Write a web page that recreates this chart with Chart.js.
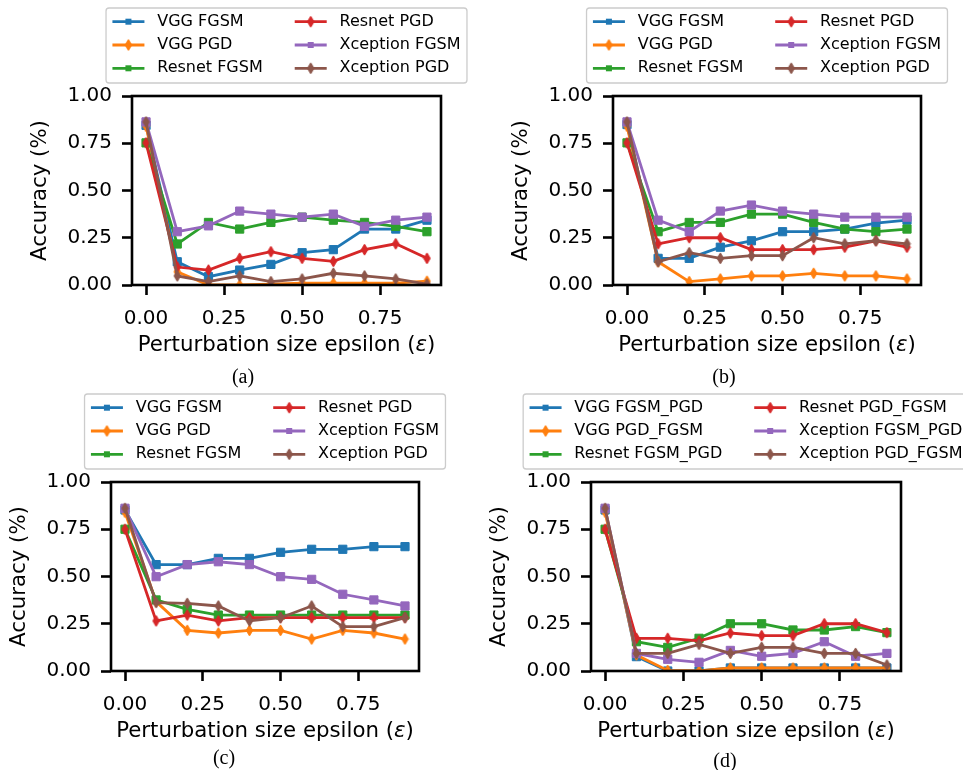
<!DOCTYPE html>
<html>
<head>
<meta charset="utf-8">
<script src="https://cdn.jsdelivr.net/npm/chart.js@4/dist/chart.umd.min.js"></script>
<style>
  body { margin: 0; background: #fff; width: 963px; height: 770px; position: relative; overflow: hidden; }
  .panel { position: absolute; }
  .cap { position: absolute; font-family: "Liberation Serif", serif; font-size: 20px; transform: translate(-50%, -50%); }
</style>
</head>
<body>
<div class="panel" style="left:0;top:0"><canvas id="ca" width="480" height="385"></canvas></div>
<div class="panel" style="left:480px;top:0"><canvas id="cb" width="483" height="385"></canvas></div>
<div class="panel" style="left:0;top:385px"><canvas id="cc" width="480" height="385"></canvas></div>
<div class="panel" style="left:480px;top:385px"><canvas id="cd" width="483" height="385"></canvas></div>
<div class="cap" style="left:243px;top:376px">(a)</div>
<div class="cap" style="left:724px;top:376px">(b)</div>
<div class="cap" style="left:224px;top:757px">(c)</div>
<div class="cap" style="left:725px;top:760px">(d)</div>
<script>
const epsilon = [0, 0.1, 0.2, 0.3, 0.4, 0.5, 0.6, 0.7, 0.8, 0.9];
const xTickValues = [0, 0.25, 0.5, 0.75];
const yTickValues = [0, 0.25, 0.5, 0.75, 1];

const seriesLabels = ["VGG FGSM", "VGG PGD", "Resnet FGSM", "Resnet PGD", "Xception FGSM", "Xception PGD"];
const mixedLabels = ["VGG FGSM_PGD", "VGG PGD_FGSM", "Resnet FGSM_PGD", "Resnet PGD_FGSM", "Xception FGSM_PGD", "Xception PGD_FGSM"];

// (a)
const vggFgsmA = [0.845, 0.123, 0.044, 0.079, 0.109, 0.171, 0.187, 0.296, 0.296, 0.343];
const vggPgdA = [0.84, 0.07, 0.0, 0.0, 0.005, 0.01, 0.01, 0.01, 0.01, 0.02];
const resnetFgsmA = [0.752, 0.217, 0.331, 0.296, 0.331, 0.359, 0.343, 0.331, 0.31, 0.282];
const resnetPgdA = [0.752, 0.095, 0.079, 0.141, 0.176, 0.141, 0.125, 0.187, 0.218, 0.141];
const xceptionFgsmA = [0.863, 0.282, 0.313, 0.391, 0.375, 0.359, 0.375, 0.31, 0.343, 0.359];
const xceptionPgdA = [0.863, 0.048, 0.018, 0.048, 0.018, 0.032, 0.062, 0.048, 0.032, 0.005];

// (b)
const vggFgsmB = [0.849, 0.141, 0.141, 0.2, 0.234, 0.282, 0.282, 0.296, 0.327, 0.343];
const vggPgdB = [0.84, 0.123, 0.018, 0.032, 0.048, 0.048, 0.062, 0.048, 0.048, 0.032];
const resnetFgsmB = [0.752, 0.282, 0.331, 0.331, 0.375, 0.375, 0.331, 0.296, 0.282, 0.296];
const resnetPgdB = [0.752, 0.218, 0.25, 0.25, 0.187, 0.187, 0.187, 0.2, 0.234, 0.2];
const xceptionFgsmB = [0.863, 0.343, 0.282, 0.391, 0.423, 0.391, 0.375, 0.359, 0.359, 0.359];
const xceptionPgdB = [0.863, 0.123, 0.171, 0.141, 0.155, 0.155, 0.25, 0.218, 0.234, 0.218];

// (c)
const vggFgsmC = [0.852, 0.563, 0.563, 0.596, 0.596, 0.628, 0.644, 0.644, 0.658, 0.658];
const vggPgdC = [0.84, 0.367, 0.215, 0.201, 0.215, 0.215, 0.169, 0.215, 0.201, 0.169];
const resnetFgsmC = [0.75, 0.376, 0.326, 0.296, 0.296, 0.296, 0.296, 0.296, 0.296, 0.296];
const resnetPgdC = [0.75, 0.265, 0.296, 0.265, 0.282, 0.282, 0.282, 0.282, 0.282, 0.282];
const xceptionFgsmC = [0.861, 0.499, 0.563, 0.578, 0.563, 0.499, 0.485, 0.406, 0.376, 0.344];
const xceptionPgdC = [0.861, 0.362, 0.358, 0.344, 0.265, 0.282, 0.344, 0.235, 0.235, 0.282];

// (d)
const vggFgsmD = [0.852, 0.076, 0.0, 0.0, 0.016, 0.016, 0.016, 0.016, 0.016, 0.016];
const vggPgdD = [0.84, 0.085, 0.003, 0.0, 0.016, 0.016, 0.016, 0.016, 0.016, 0.016];
const resnetFgsmD = [0.75, 0.155, 0.125, 0.173, 0.25, 0.25, 0.217, 0.217, 0.235, 0.203];
const resnetPgdD = [0.75, 0.173, 0.173, 0.159, 0.201, 0.187, 0.187, 0.25, 0.25, 0.203];
const xceptionFgsmD = [0.861, 0.093, 0.062, 0.046, 0.109, 0.078, 0.093, 0.155, 0.078, 0.093];
const xceptionPgdD = [0.861, 0.093, 0.093, 0.141, 0.093, 0.125, 0.125, 0.093, 0.093, 0.032];

const colors = ["#1f77b4", "#ff7f0e", "#2ca02c", "#d62728", "#9467bd", "#8c564b"];
const FONT = '"DejaVu Sans", sans-serif';

// matplotlib-style thin diamond, used as an image point style
function thinDiamond(color) {
  const c = document.createElement("canvas");
  c.width = 9;
  c.height = 13;
  const g = c.getContext("2d");
  g.beginPath();
  g.moveTo(4.5, 1.0);
  g.lineTo(7.8, 6.5);
  g.lineTo(4.5, 12.0);
  g.lineTo(1.2, 6.5);
  g.closePath();
  g.fillStyle = color;
  g.fill();
  g.strokeStyle = color;
  g.lineWidth = 1;
  g.stroke();
  return c;
}
const diamonds = colors.map(thinDiamond);

function drawMarker(ctx, i, x, y) {
  if (i % 2) {
    const d = diamonds[i];
    ctx.drawImage(d, x - d.width / 2, y - d.height / 2);
  } else {
    ctx.fillStyle = colors[i];
    ctx.fillRect(x - 3, y - 3, 6, 6);
  }
}

const framePlugin = {
  id: "frame",
  afterDatasetsDraw(chart) {
    const { ctx, chartArea: a } = chart;
    ctx.save();
    ctx.strokeStyle = "#000";
    ctx.lineWidth = 2.6;
    ctx.strokeRect(a.left, a.top, a.right - a.left, a.bottom - a.top);
    ctx.restore();
  }
};

// x title with an italic epsilon
const xTitlePlugin = {
  id: "xTitle",
  afterDraw(chart) {
    const { ctx, chartArea: a } = chart;
    const parts = [["Perturbation size epsilon (", ""], ["\u03b5", "italic "], [")", ""]];
    ctx.save();
    ctx.fillStyle = "#000";
    ctx.textBaseline = "middle";
    let total = 0;
    parts.forEach(p => { ctx.font = p[1] + "21.3px " + FONT; total += ctx.measureText(p[0]).width; });
    let x = (a.left + a.right) / 2 - total / 2;
    const y = a.bottom + 60;
    parts.forEach(p => {
      ctx.font = p[1] + "21.3px " + FONT;
      ctx.fillText(p[0], x, y);
      x += ctx.measureText(p[0]).width;
    });
    ctx.restore();
  }
};

// two-column legend box above the axes
const legendPlugin = {
  id: "boxLegend",
  afterDraw(chart) {
    const { ctx, chartArea: a } = chart;
    const items = chart.data.datasets;
    const fs = 16;
    ctx.save();
    ctx.font = fs + "px " + FONT;
    const pad = 0.4 * fs, handle = 2 * fs, hpad = 0.8 * fs, colGap = 2 * fs, pitch = 23.3;
    const colW = [items.slice(0, 3), items.slice(3)].map(col =>
      handle + hpad + Math.max(...col.map(d => ctx.measureText(d.label).width)));
    const boxW = 2 * pad + colW[0] + colGap + colW[1];
    const boxH = 75;
    const x0 = (a.left + a.right) / 2 - boxW / 2;
    const y0 = a.top - 13 - boxH;
    ctx.beginPath();
    ctx.roundRect(x0, y0, boxW, boxH, 3);
    ctx.fillStyle = "rgba(255,255,255,0.8)";
    ctx.fill();
    ctx.strokeStyle = "#cccccc";
    ctx.lineWidth = 1.3;
    ctx.stroke();
    items.forEach((d, i) => {
      const col = Math.floor(i / 3), row = i % 3;
      const cx = x0 + pad + (col ? colW[0] + colGap : 0);
      const cy = y0 + 13.7 + row * pitch;
      ctx.strokeStyle = colors[i];
      ctx.lineWidth = 2.8;
      ctx.beginPath();
      ctx.moveTo(cx, cy);
      ctx.lineTo(cx + handle, cy);
      ctx.stroke();
      drawMarker(ctx, i, cx + handle / 2, cy);
      ctx.fillStyle = "#000";
      ctx.textBaseline = "middle";
      ctx.fillText(d.label, cx + handle + hpad, cy);
    });
    ctx.restore();
  }
};

const panels = [
  { id: "ca", w: 480, h: 385, left: 132, right: 441, top: 96, bottom: 285, labels: seriesLabels,
    series: [vggFgsmA, vggPgdA, resnetFgsmA, resnetPgdA, xceptionFgsmA, xceptionPgdA] },
  { id: "cb", w: 483, h: 385, left: 133, right: 441, top: 96, bottom: 285, labels: seriesLabels,
    series: [vggFgsmB, vggPgdB, resnetFgsmB, resnetPgdB, xceptionFgsmB, xceptionPgdB] },
  { id: "cc", w: 480, h: 385, left: 111, right: 419, top: 97, bottom: 286, labels: seriesLabels,
    series: [vggFgsmC, vggPgdC, resnetFgsmC, resnetPgdC, xceptionFgsmC, xceptionPgdC] },
  { id: "cd", w: 483, h: 385, left: 111, right: 421, top: 97, bottom: 286, labels: mixedLabels,
    series: [vggFgsmD, vggPgdD, resnetFgsmD, resnetPgdD, xceptionFgsmD, xceptionPgdD] }
];

const axisLine = { display: true, drawOnChartArea: false, drawTicks: true, tickLength: 10, tickWidth: 2.6, tickColor: "#000" };

panels.forEach(p => {
  new Chart(document.getElementById(p.id), {
    type: "line",
    data: {
      datasets: p.series.map((vals, i) => ({
        label: p.labels[i],
        data: vals.map((v, k) => ({ x: epsilon[k], y: v })),
        borderColor: colors[i],
        backgroundColor: colors[i],
        borderWidth: 2.8,
        pointStyle: i % 2 ? diamonds[i] : "rect",
        pointRadius: 5.8,
        pointBorderWidth: 1,
        order: 5 - i,
        clip: 0
      }))
    },
    options: {
      responsive: false,
      animation: false,
      events: [],
      layout: { padding: { left: 0, top: p.top, right: p.w - p.right, bottom: 0 } },
      plugins: { legend: { display: false }, tooltip: { enabled: false } },
      scales: {
        x: {
          type: "linear",
          min: -0.045,
          max: 0.945,
          afterBuildTicks: s => { s.ticks = xTickValues.map(v => ({ value: v })); },
          afterFit: s => { s.height = p.h - p.bottom; },
          grid: axisLine,
          border: { display: false },
          ticks: { color: "#000", padding: 12, maxRotation: 0, font: { family: FONT, size: 20 },
                   callback: v => v.toFixed(2) }
        },
        y: {
          min: 0,
          max: 1,
          afterBuildTicks: s => { s.ticks = yTickValues.map(v => ({ value: v })); },
          afterFit: s => { s.width = p.left; },
          grid: axisLine,
          border: { display: false },
          ticks: { color: "#000", padding: 10, font: { family: FONT, size: 20 },
                   callback: v => v.toFixed(2) },
          title: { display: true, text: "Accuracy (%)", color: "#000",
                   font: { family: FONT, size: 21.3 }, padding: { top: p.left - 92 - 12.8, bottom: 0 } }
        }
      }
    },
    plugins: [framePlugin, xTitlePlugin, legendPlugin]
  });
});
</script>
</body>
</html>
